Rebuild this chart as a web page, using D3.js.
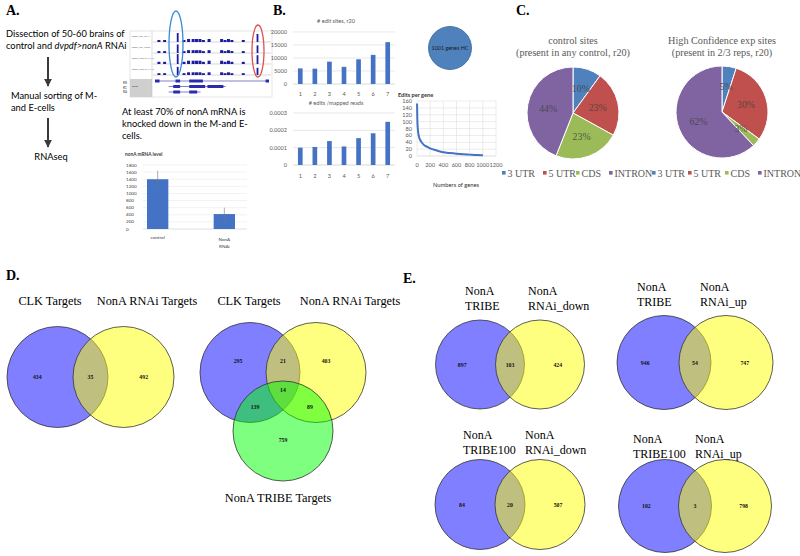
<!DOCTYPE html>
<html><head><meta charset="utf-8">
<script src="https://cdn.jsdelivr.net/npm/d3@7"></script>
<style>body{margin:0;background:#fff;} svg{display:block;}</style>
</head><body>
<svg id="c" width="800" height="556"></svg>
<script>
// ---------------- DATA ----------------
const panelLetters = ["A.", "B.", "C.", "D.", "E."];

// Panel A – workflow
const workflowSteps = ["Dissection of 50-60 brains of", "Manual sorting of M-", "and E-cells", "RNAseq"];
const knockdownText = ["At least 70% of nonA mRNA is", "knocked down in the M-and E-", "cells."];
const trackNames = ["Dmel_ctrl_ZT14", "Dmel_ctrl_ZT02", "Dmel_nonARNAi_Z", "Dmel_nonARNAi_Z"];
const peakPos = [3, 8, 20, 25, 29, 33, 36, 39, 42, 47, 58, 61, 64, 67, 77, 90];
const peakHeight = [2, 2, 9, 2, 3, 3, 3, 3, 2, 3, 3, 2, 3, 2, 2, 8];
const trackScale = [1.0, 0.95, 1.1, 0.9];
const geneRowLines = [[0, 100], [12, 62], [12, 40]];
const geneRowExons = [[[0, 4], [18, 22], [30, 42], [97, 100]], [[16, 22], [30, 44], [46, 60]], [[16, 22], [30, 37]]];

const nonaGroups = ["control", "NonA RNAi"];
const nonaLevel = [1400, 420];
const nonaErrLow = [1170, 220];
const nonaErrHigh = [1640, 600];
const nonaTicks = [0, 200, 400, 600, 800, 1000, 1200, 1400, 1600, 1800];

// Panel B
const sampleIds = ["1", "2", "3", "4", "5", "6", "7"];
const editSites = [6000, 5900, 8600, 6600, 9500, 11200, 16100];
const editSiteTicks = [0, 5000, 10000, 15000, 20000];
const editsPerRead = [0.000100, 0.000104, 0.000138, 0.000107, 0.000155, 0.000183, 0.000249];
const editsPerReadTicks = [0, 0.0001, 0.0002, 0.0003];
const geneRank = [1, 2, 4, 6, 10, 15, 20, 30, 45, 70, 100, 150, 200, 300, 400, 500, 600, 700, 800, 900, 1001];
const editsPerGene = [153, 140, 118, 100, 86, 74, 66, 56, 48, 40, 33, 27, 22, 16, 11, 8.5, 6.5, 5, 4, 3, 2.5];
const perGeneYTicks = [0, 20, 40, 60, 80, 100, 120, 140, 160];
const perGeneXTicks = [0, 200, 400, 600, 800, 1000, 1200];

// Panel C
const regionNames = ["3 UTR", "5 UTR", "CDS", "INTRON"];
const regionColors = ["#4f81bd", "#c0504d", "#9bbb59", "#8064a2"];
const controlPct = [10, 23, 23, 44];
const hcPct = [5, 30, 3, 62];
const controlTitle = ["control sites", "(present in any control, r20)"];
const hcTitle = ["High Confidence exp sites", "(present in 2/3 reps, r20)"];

// Panel D
const d1Titles = ["CLK Targets", "NonA RNAi Targets"];
const d1Counts = [434, 35, 492];
const d2Titles = ["CLK Targets", "NonA RNAi Targets", "NonA TRIBE Targets"];
const d2Counts = [295, 21, 403, 14, 139, 89, 759];

// Panel E
const e1Titles = [["NonA", "TRIBE"], ["NonA", "RNAi_down"]];
const e1Counts = [897, 103, 424];
const e2Titles = [["NonA", "TRIBE"], ["NonA", "RNAi_up"]];
const e2Counts = [946, 54, 747];
const e3Titles = [["NonA", "TRIBE100"], ["NonA", "RNAi_down"]];
const e3Counts = [84, 20, 507];
const e4Titles = [["NonA", "TRIBE100"], ["NonA", "RNAi_up"]];
const e4Counts = [102, 3, 798];

// ---------------- DRAWING ----------------
const svg = d3.select("#c");
const serif = "'Liberation Serif','Times New Roman',serif";
const sans = "Lato,'Open Sans',sans-serif";
const axisGray = "#595959", gridGray = "#d9d9d9", barBlue = "#4472c4";

// panel letters
const letterPos = [[6, 15], [273, 15], [516, 15], [6, 280], [403, 283]];
svg.selectAll("text.letter").data(panelLetters).join("text")
  .attr("x", (d, i) => letterPos[i][0]).attr("y", (d, i) => letterPos[i][1])
  .attr("font-family", serif).attr("font-weight", "bold").attr("font-size", 14).text(d => d);

// ---- Panel A ----
const A = svg.append("g");
function txt(g, x, y, s, size, opts = {}) {
  return g.append("text").attr("x", x).attr("y", y).attr("font-family", opts.family || sans)
    .attr("font-size", size).attr("fill", opts.fill || "#000")
    .attr("text-anchor", opts.anchor || "start").attr("font-weight", opts.weight || "normal").text(s);
}
txt(A, 6, 37, workflowSteps[0], 9.3);
const l2 = A.append("text").attr("x", 6).attr("y", 49).attr("font-family", sans).attr("font-size", 9.3);
l2.append("tspan").text("control and ");
l2.append("tspan").attr("font-style", "italic").text("dvpdf>nonA");
l2.append("tspan").text(" RNAi");
txt(A, 11, 99, workflowSteps[1], 9.3);
txt(A, 11, 111, workflowSteps[2], 9.3);
txt(A, 51, 160, workflowSteps[3], 9.3, { anchor: "middle" });
const defs = svg.append("defs");
defs.append("marker").attr("id", "ah").attr("viewBox", "0 0 10 10").attr("refX", 9).attr("refY", 5)
  .attr("markerWidth", 4).attr("markerHeight", 4).attr("orient", "auto")
  .append("path").attr("d", "M0,0L10,5L0,10z").attr("fill", "#3a3a3a");
[[57, 86], [118, 147]].forEach(([y0, y1]) => {
  A.append("line").attr("x1", 48).attr("x2", 48).attr("y1", y0).attr("y2", y1)
    .attr("stroke", "#3a3a3a").attr("stroke-width", 2).attr("marker-end", "url(#ah)");
});

// genome browser thumbnail
const gb = A.append("g");
gb.append("rect").attr("x", 130).attr("y", 31).attr("width", 142).attr("height", 66).attr("fill", "#fff").attr("stroke", "#ccc").attr("stroke-width", 0.5);
gb.append("rect").attr("x", 130).attr("y", 79).attr("width", 22).attr("height", 18).attr("fill", "#cfcfcf");
gb.append("text").attr("x", 132).attr("y", 87).attr("font-size", 2.5).attr("font-family", sans).attr("fill", "#333").text("Gene");
gb.append("line").attr("x1", 152).attr("x2", 152).attr("y1", 31).attr("y2", 97).attr("stroke", "#bbb").attr("stroke-width", 0.5);
["RB", "RC", "RA"].forEach((s, i) => gb.append("text").attr("x", 123).attr("y", [84, 88.5, 93][i]).attr("font-size", 3).attr("font-family", sans).attr("fill", "#333").text(s));
const gx = d3.scaleLinear().domain([0, 100]).range([155, 269]);
const trackBase = [42, 53, 64, 75];
trackNames.forEach((nm, t) => {
  gb.append("text").attr("x", 132).attr("y", trackBase[t] - 5).attr("font-size", 2.6).attr("font-family", sans).attr("fill", "#666").text(nm);
  gb.append("line").attr("x1", 153).attr("x2", 271).attr("y1", trackBase[t]).attr("y2", trackBase[t]).attr("stroke", "#99a").attr("stroke-width", 0.4);
  gb.selectAll(null).data(peakPos).join("rect")
    .attr("x", d => gx(d) - 1).attr("width", (d, i) => peakHeight[i] > 5 ? 1.8 : 3)
    .attr("y", (d, i) => trackBase[t] - peakHeight[i] * trackScale[t])
    .attr("height", (d, i) => peakHeight[i] * trackScale[t]).attr("fill", "#1c1c9c");
});
const geneY = [81, 86.5, 92];
geneRowLines.forEach((ln, r) => {
  gb.append("line").attr("x1", gx(ln[0])).attr("x2", gx(ln[1])).attr("y1", geneY[r]).attr("y2", geneY[r]).attr("stroke", "#2b2bb0").attr("stroke-width", 0.6);
  gb.selectAll(null).data(geneRowExons[r]).join("rect")
    .attr("x", d => gx(d[0])).attr("width", d => gx(d[1]) - gx(d[0]))
    .attr("y", geneY[r] - 1.5).attr("height", 3).attr("fill", "#2b2bb0");
});
gb.append("ellipse").attr("cx", 176).attr("cy", 44).attr("rx", 7).attr("ry", 33).attr("fill", "none").attr("stroke", "#3b8ad8").attr("stroke-width", 1.3);
gb.append("ellipse").attr("cx", 258).attr("cy", 51).attr("rx", 6).attr("ry", 26).attr("fill", "none").attr("stroke", "#e05050").attr("stroke-width", 1.3);

knockdownText.forEach((s, i) => txt(A, 122, 115 + i * 12.2, s, 9.3));

// nonA mRNA chart
txt(A, 125, 156, "nonA mRNA level", 4.8, { weight: "bold", fill: "#404040" });
const ny = d3.scaleLinear().domain([0, 1800]).range([229, 165]);
const nx = d3.scaleBand().domain(nonaGroups).range([137, 245]).paddingInner(0.68).paddingOuter(0.15);
A.selectAll(null).data(nonaTicks).join("line").attr("x1", 143).attr("x2", 247)
  .attr("y1", d => ny(d)).attr("y2", d => ny(d)).attr("stroke", d => d === 0 ? "#bfbfbf" : "#e4e4e4").attr("stroke-width", 0.5);
A.selectAll(null).data(nonaTicks).join("text").attr("x", 126).attr("y", d => ny(d) + 1.6)
  .attr("font-size", 4.6).attr("font-family", sans).attr("fill", "#404040").text(d => d);
A.selectAll(null).data(nonaGroups).join("rect").attr("x", d => nx(d)).attr("width", nx.bandwidth())
  .attr("y", (d, i) => ny(nonaLevel[i])).attr("height", (d, i) => ny(0) - ny(nonaLevel[i])).attr("fill", barBlue);
A.selectAll(null).data(nonaGroups).join("line").attr("x1", d => nx(d) + nx.bandwidth() / 2).attr("x2", d => nx(d) + nx.bandwidth() / 2)
  .attr("y1", (d, i) => ny(nonaErrLow[i])).attr("y2", (d, i) => ny(nonaErrHigh[i])).attr("stroke", "#777").attr("stroke-width", 0.6);
txt(A, nx("control") + nx.bandwidth() / 2, 239, "control", 4.6, { anchor: "middle", fill: "#404040" });
txt(A, nx("NonA RNAi") + nx.bandwidth() / 2, 241, "NonA", 4.6, { anchor: "middle", fill: "#404040" });
txt(A, nx("NonA RNAi") + nx.bandwidth() / 2, 247.5, "RNAi", 4.6, { anchor: "middle", fill: "#404040" });

// ---- Panel B ----
const B = svg.append("g");
function barChart(g, title, titleY, values, ticks, y0, y1, labelY) {
  const x = d3.scaleBand().domain(sampleIds).range([293, 395]).paddingInner(0.68).paddingOuter(0.34);
  const y = d3.scaleLinear().domain([ticks[0], ticks[ticks.length - 1]]).range([y0, y1]);
  txt(g, 336, titleY, title, 5.6, { anchor: "middle", fill: axisGray });
  g.selectAll(null).data(ticks).join("line").attr("x1", 293).attr("x2", 395)
    .attr("y1", d => y(d)).attr("y2", d => y(d)).attr("stroke", d => d === 0 ? "#bfbfbf" : gridGray).attr("stroke-width", 0.6);
  g.selectAll(null).data(ticks).join("text").attr("x", 287).attr("y", d => y(d) + 2)
    .attr("text-anchor", "end").attr("font-size", 5.6).attr("font-family", sans).attr("fill", axisGray).text(d => String(d));
  g.selectAll(null).data(sampleIds).join("rect").attr("x", d => x(d)).attr("width", x.bandwidth())
    .attr("y", (d, i) => y(values[i])).attr("height", (d, i) => y0 - y(values[i])).attr("fill", barBlue);
  g.selectAll(null).data(sampleIds).join("text").attr("x", d => x(d) + x.bandwidth() / 2).attr("y", labelY)
    .attr("text-anchor", "middle").attr("font-size", 5.6).attr("font-family", sans).attr("fill", axisGray).text(d => d);
}
barChart(B, "# edit sites, r20", 23, editSites, editSiteTicks, 84, 32, 96);
barChart(B, "# edits /mapped reads", 105, editsPerRead, editsPerReadTicks, 165, 113, 178);

B.append("circle").attr("cx", 450).attr("cy", 48).attr("r", 21.5).attr("fill", "#4f81bd").attr("stroke", "#3a6493").attr("stroke-width", 0.8);
txt(B, 450, 50, "1001 genes HC", 5.4, { anchor: "middle", fill: "#1a1a1a" });

// Edits per gene
const px = d3.scaleLinear().domain([0, 1200]).range([417, 496]);
const py = d3.scaleLinear().domain([0, 160]).range([156, 101]);
txt(B, 398, 97, "Edits per gene", 5.6, { weight: "bold", fill: "#333" });
B.selectAll(null).data(perGeneYTicks).join("line").attr("x1", px(0)).attr("x2", px(1200))
  .attr("y1", d => py(d)).attr("y2", d => py(d)).attr("stroke", d => d === 0 ? "#bfbfbf" : gridGray).attr("stroke-width", 0.5);
B.selectAll(null).data(perGeneXTicks).join("line").attr("y1", py(0)).attr("y2", py(160))
  .attr("x1", d => px(d)).attr("x2", d => px(d)).attr("stroke", gridGray).attr("stroke-width", 0.5);
B.selectAll(null).data(perGeneYTicks).join("text").attr("x", 412).attr("y", d => py(d) + 2)
  .attr("text-anchor", "end").attr("font-size", 5.6).attr("font-family", sans).attr("fill", axisGray).text(d => d);
B.selectAll(null).data(perGeneXTicks).join("text").attr("x", d => px(d)).attr("y", 167)
  .attr("text-anchor", "middle").attr("font-size", 5.6).attr("font-family", sans).attr("fill", axisGray).text(d => d);
txt(B, 456, 187, "Numbers of genes", 5.8, { anchor: "middle", fill: "#333" });
B.append("path").datum(geneRank.map((r, i) => [r, editsPerGene[i]]))
  .attr("d", d3.line().x(d => px(d[0])).y(d => py(d[1])).curve(d3.curveMonotoneX))
  .attr("fill", "none").attr("stroke", barBlue).attr("stroke-width", 2);

// ---- Panel C ----
const C = svg.append("g");
function pie(g, cx, cy, r, pcts, title, titleCx) {
  txt(g, titleCx, 43.5, title[0], 10.2, { family: serif, anchor: "middle", fill: axisGray });
  txt(g, titleCx, 55.5, title[1], 10.2, { family: serif, anchor: "middle", fill: axisGray });
  const arcs = d3.pie().sort(null)(pcts);
  const arc = d3.arc().innerRadius(0).outerRadius(r);
  const lab = d3.arc().innerRadius(r * 0.55).outerRadius(r * 0.55);
  const pg = g.append("g").attr("transform", `translate(${cx},${cy})`);
  pg.selectAll("path").data(arcs).join("path").attr("d", arc).attr("fill", (d, i) => regionColors[i])
    .attr("stroke", "#fff").attr("stroke-width", 1);
  pg.selectAll("text").data(arcs).join("text").attr("transform", d => `translate(${lab.centroid(d)})`)
    .attr("text-anchor", "middle").attr("dy", "0.35em").attr("font-family", serif).attr("font-size", 9.8)
    .attr("fill", "#404040").attr("fill-opacity", 0.85).text(d => d.data + "%");
}
pie(C, 573, 113, 46, controlPct, controlTitle, 573);
pie(C, 722, 112, 46, hcPct, hcTitle, 722);
const legendX = [[502, 543, 576, 609], [652, 688, 725, 758]];
legendX.forEach(xs => {
  regionNames.forEach((nm, i) => {
    C.append("rect").attr("x", xs[i]).attr("y", 171).attr("width", 3.6).attr("height", 3.6).attr("fill", regionColors[i]);
    txt(C, xs[i] + 5.5, 176.5, nm, 10, { family: serif, fill: axisGray });
  });
});

// ---- Venn diagrams ----
const vennFill = ["rgba(0,0,255,0.5)", "rgba(255,255,0,0.5)", "rgba(0,255,0,0.5)"];
function circles(g, cs, r) {
  g.selectAll(null).data(cs).join("circle").attr("cx", d => d[0]).attr("cy", d => d[1]).attr("r", r)
    .attr("fill", (d, i) => vennFill[i]).attr("stroke", "#333").attr("stroke-width", 0.8);
}
function counts(g, pos, vals) {
  g.selectAll(null).data(vals).join("text").attr("x", (d, i) => pos[i][0]).attr("y", (d, i) => pos[i][1] + 2)
    .attr("text-anchor", "middle").attr("font-family", serif).attr("font-weight", "bold").attr("font-size", 5.8)
    .attr("fill", "#111").text(d => d);
}
function venn2(g, mid, cy, r, half, vals) {
  circles(g, [[mid - half, cy], [mid + half, cy]], r);
  counts(g, [[mid - half - 0.4 * r, cy], [mid, cy], [mid + half + 0.4 * r, cy]], vals);
}
const D = svg.append("g");
txt(D, 50, 305, d1Titles[0], 12.3, { family: serif, anchor: "middle" });
txt(D, 147, 305, d1Titles[1], 12.3, { family: serif, anchor: "middle" });
venn2(D, 90.5, 377, 50.5, 33, d1Counts);
txt(D, 249, 305, d2Titles[0], 12.3, { family: serif, anchor: "middle" });
txt(D, 350, 305, d2Titles[1], 12.3, { family: serif, anchor: "middle" });
txt(D, 278, 502, d2Titles[2], 12.3, { family: serif, anchor: "middle" });
circles(D, [[250, 372.5], [316, 372.5], [283, 431]], 50);
counts(D, [[238, 361], [283, 361], [326, 361], [283, 390], [255, 407], [310, 407], [283, 440]], d2Counts);

const E = svg.append("g");
function eBlock(titles, tx, ty, mid, cy, r, half, vals) {
  titles.forEach((t, j) => t.forEach((s, k) => txt(E, tx[j], ty + k * 15, s, 12, { family: serif })));
  venn2(E, mid, cy, r, half, vals);
}
eBlock(e1Titles, [465, 528], 295, 510, 364.5, 44.5, 30, e1Counts);
eBlock(e2Titles, [637, 700], 291, 695, 362.5, 47, 31, e2Counts);
eBlock(e3Titles, [463, 525], 439, 510, 504.5, 45, 30, e3Counts);
eBlock(e4Titles, [633, 695], 443, 695, 506, 46.5, 30, e4Counts);
</script>
</body></html>
